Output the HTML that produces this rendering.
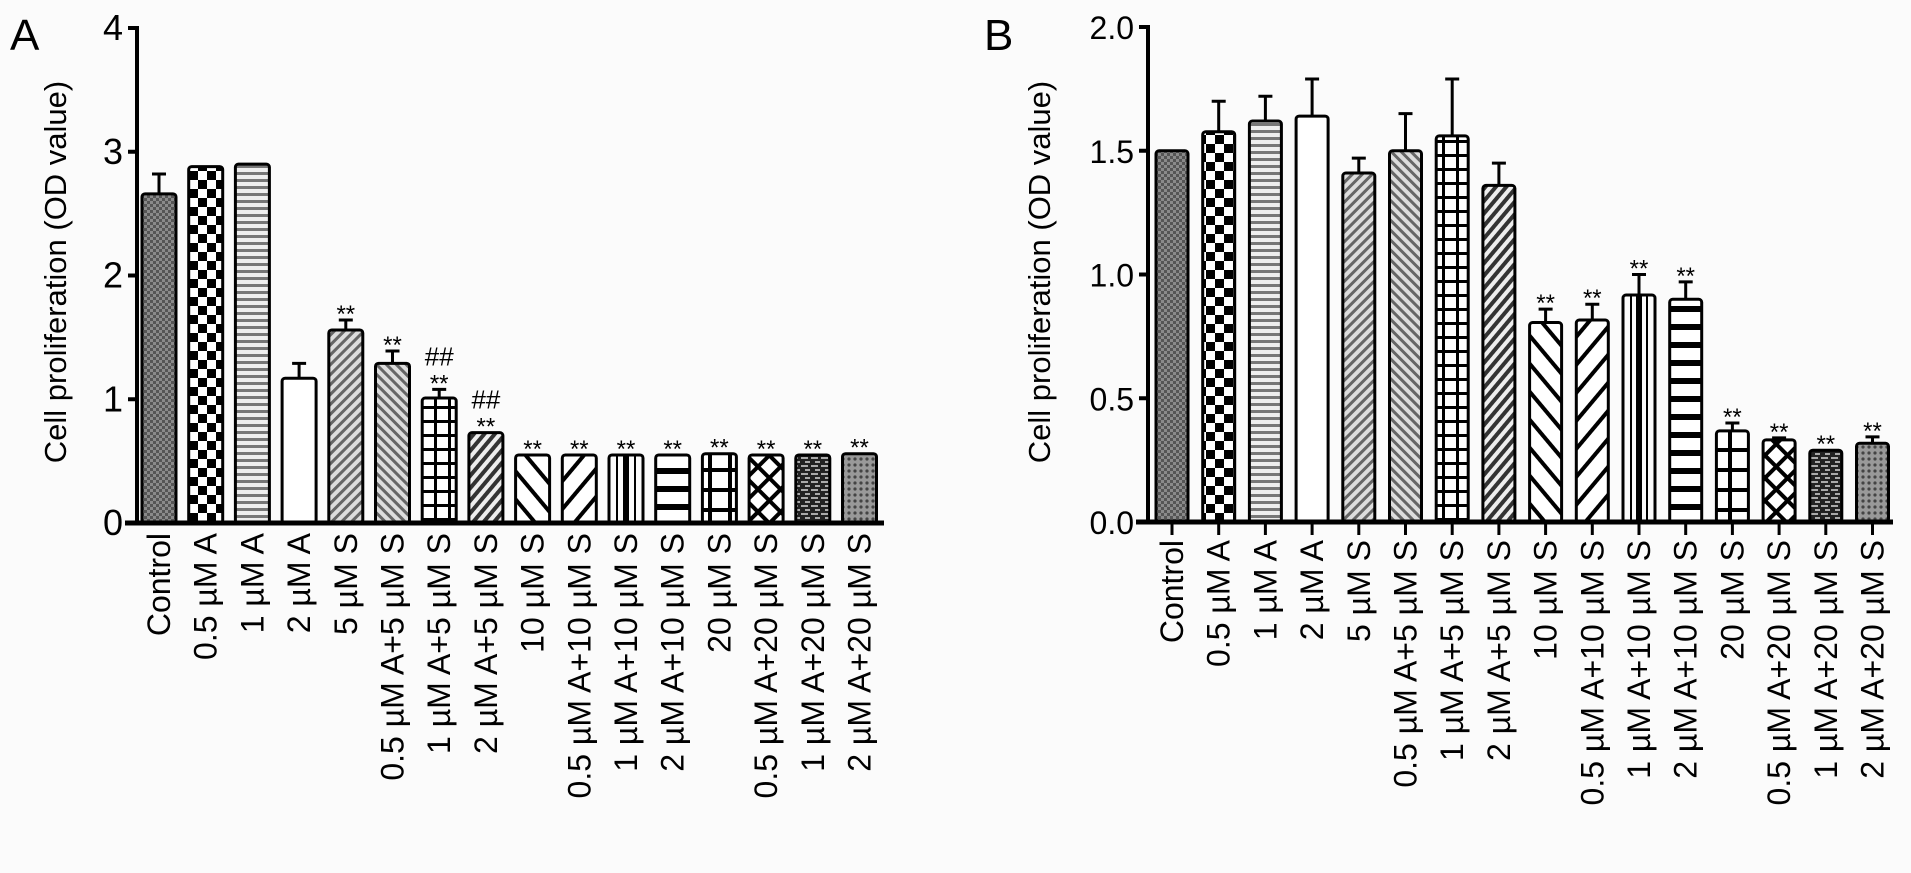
<!DOCTYPE html>
<html><head><meta charset="utf-8">
<style>
html,body{margin:0;padding:0;background:#fbfbfb;}
svg{display:block;font-family:"Liberation Sans",Arial,sans-serif;}
</style></head>
<body>
<svg id="fig" width="1911" height="873" viewBox="0 0 1911 873">
<defs>
 <pattern id="p0" width="6" height="6" patternUnits="userSpaceOnUse"><rect width="6" height="6" fill="#8a8a8a"/><rect width="3" height="3" fill="#555"/><rect x="3" y="3" width="3" height="3" fill="#555"/></pattern>
 <pattern id="p1" width="18" height="18" patternUnits="userSpaceOnUse"><rect width="18" height="18" fill="#fff"/><rect width="9" height="9" fill="#000"/><rect x="9" y="9" width="9" height="9" fill="#000"/></pattern>
 <pattern id="p2" width="7" height="7" patternUnits="userSpaceOnUse"><rect width="7" height="7" fill="#eee"/><rect y="4" width="7" height="3" fill="#777"/></pattern>
 <pattern id="p3" width="10" height="10" patternUnits="userSpaceOnUse"><rect width="10" height="10" fill="#fff"/></pattern>
 <pattern id="p4" width="7" height="7" patternUnits="userSpaceOnUse" patternTransform="rotate(45)"><rect width="7" height="7" fill="#ddd"/><rect width="3" height="7" fill="#666"/></pattern>
 <pattern id="p5" width="7" height="7" patternUnits="userSpaceOnUse" patternTransform="rotate(-45)"><rect width="7" height="7" fill="#ddd"/><rect width="3" height="7" fill="#666"/></pattern>
 <pattern id="p6" width="14" height="14" patternUnits="userSpaceOnUse"><rect width="14" height="14" fill="#fff"/><rect width="3" height="14" fill="#000"/><rect width="14" height="3" fill="#000"/></pattern>
 <pattern id="p7" width="8" height="8" patternUnits="userSpaceOnUse" patternTransform="rotate(40)"><rect width="8" height="8" fill="#eee"/><rect width="4" height="8" fill="#333"/></pattern>
 <pattern id="p8" width="18" height="18" patternUnits="userSpaceOnUse" patternTransform="rotate(-40)"><rect width="18" height="18" fill="#fff"/><rect width="4" height="18" fill="#000"/></pattern>
 <pattern id="p9" width="18" height="18" patternUnits="userSpaceOnUse" patternTransform="rotate(40)"><rect width="18" height="18" fill="#fff"/><rect width="4" height="18" fill="#000"/></pattern>
 <pattern id="p11" width="18" height="18" patternUnits="userSpaceOnUse"><rect width="18" height="18" fill="#fff"/><rect width="18" height="6" fill="#000"/></pattern>
 <pattern id="p12" width="20" height="20" patternUnits="userSpaceOnUse"><rect width="20" height="20" fill="#fff"/><rect x="8" width="4" height="20" fill="#000"/><rect y="8" width="20" height="4" fill="#000"/></pattern>
 <pattern id="p13" width="16" height="16" patternUnits="userSpaceOnUse" patternTransform="rotate(45)"><rect width="16" height="16" fill="#fff"/><rect width="4" height="16" fill="#000"/><rect width="16" height="4" fill="#000"/></pattern>
 <pattern id="p14" width="10" height="8" patternUnits="userSpaceOnUse"><rect width="10" height="8" fill="#222"/><rect x="1" y="1" width="7" height="2" fill="#aaa"/><rect x="5" y="5" width="5" height="2" fill="#aaa"/></pattern>
 <pattern id="p15" width="6" height="6" patternUnits="userSpaceOnUse"><rect width="6" height="6" fill="#999"/><circle cx="3" cy="3" r="1.6" fill="#444"/></pattern>
</defs>
<g id="A"></g>
<g id="B"></g>
</svg>
<script>
const categories = ["Control","0.5 µM A","1 µM A","2 µM A","5 µM S","0.5 µM A+5 µM S","1 µM A+5 µM S","2 µM A+5 µM S","10 µM S","0.5 µM A+10 µM S","1 µM A+10 µM S","2 µM A+10 µM S","20 µM S","0.5 µM A+20 µM S","1 µM A+20 µM S","2 µM A+20 µM S"];
const valuesA = [2.66,2.88,2.90,1.17,1.56,1.29,1.01,0.73,0.55,0.55,0.55,0.55,0.56,0.55,0.55,0.56];
const errTopA = [2.82,2.88,2.90,1.29,1.64,1.39,1.08,0.73,0.55,0.55,0.55,0.55,0.56,0.55,0.55,0.56];
const starsA = ["","","","","**","**","**","**","**","**","**","**","**","**","**","**"];
const hashA = ["","","","","","","##","##","","","","","","","",""];
const ticksA = [0,1,2,3,4];
const tickLabelsA = ["0","1","2","3","4"];
const valuesB = [1.50,1.577,1.62,1.64,1.41,1.50,1.56,1.36,0.806,0.816,0.917,0.90,0.368,0.332,0.29,0.318];
const errTopB = [1.50,1.70,1.72,1.79,1.47,1.65,1.79,1.45,0.86,0.88,1.00,0.97,0.40,0.34,0.29,0.344];
const starsB = ["","","","","","","","","**","**","**","**","**","**","**","**"];
const ticksB = [0,0.5,1.0,1.5,2.0];
const tickLabelsB = ["0.0","0.5","1.0","1.5","2.0"];

const NS="http://www.w3.org/2000/svg";
function mk(parent,tag,attrs,text){const e=document.createElementNS(NS,tag);for(const k in attrs)e.setAttribute(k,attrs[k]);if(text!==undefined)e.textContent=text;parent.appendChild(e);return e;}

function panel(g,o){
  const y=v=>o.y0-(v-o.vmin)/(o.vmax-o.vmin)*(o.y0-o.yTop);
  const x=i=>o.x0+i*o.pitch;
  const L=mk(g,'text',{x:o.letterX,y:50,'font-size':44},o.letter);
  
  
  const t=mk(g,'text',{transform:`translate(${o.titleX},${o.titleY}) rotate(-90)`,'text-anchor':'middle','font-size':31},'Cell proliferation (OD value)');
  
  
  o.vals.forEach((v,i)=>{
    const cx=x(i),top=y(v),bw=o.bw;
    const b=mk(g,'rect',{x:cx-bw/2,y:top,width:bw,height:o.y0-top,fill:`url(#p${i})`,stroke:'#000','stroke-width':3,rx:3});
    
    
    if(i===10){
      mk(g,'rect',{x:cx-3,y:top,width:6,height:o.y0-top,fill:'#000'});
      mk(g,'rect',{x:cx-bw/2+7,y:top,width:2,height:o.y0-top,fill:'#000'});
      mk(g,'rect',{x:cx+bw/2-9,y:top,width:2,height:o.y0-top,fill:'#000'});
    }
    const et=y(o.err[i]);
    if(o.err[i]>v+0.001){
      const eb=mk(g,'path',{d:`M${cx},${top} V${et} M${cx-7},${et} H${cx+7}`,stroke:'#000','stroke-width':3,fill:'none'});
      
      
    }
    let ly=et-8;
    if(o.stars[i]){
      const s=mk(g,'text',{x:cx,y:ly+10,'text-anchor':'middle','font-size':24},o.stars[i]);
      
      
      ly-=22;
    }
    if(o.hash&&o.hash[i]){
      const h=mk(g,'text',{x:cx,y:ly+6,'text-anchor':'middle','font-size':26},o.hash[i]);
      
      
    }
    if(o.xticks) mk(g,'line',{x1:cx,x2:cx,y1:o.y0,y2:o.y0+13,stroke:'#000','stroke-width':3});
    const lab=mk(g,'text',{transform:`translate(${cx+11},${o.labelTop}) rotate(-90)`,'text-anchor':'end','font-size':32},categories[i]);
    
    
  });
  const ya=mk(g,'line',{x1:o.axisX,x2:o.axisX,y1:o.yTop-2,y2:o.y0+2,stroke:'#000','stroke-width':4});
  
  
  const xa=mk(g,'line',{x1:o.axisX-12,x2:o.xEnd,y1:o.y0,y2:o.y0,stroke:'#000','stroke-width':5});
  
  
  o.ticks.forEach((tv,k)=>{
    const ty=y(tv);
    mk(g,'line',{x1:o.axisX-9,x2:o.axisX,y1:ty,y2:ty,stroke:'#000','stroke-width':4});
    const tl=mk(g,'text',{x:o.axisX-14,y:ty+12,'text-anchor':'end','font-size':o.tickSize},o.tickLabels[k]);
    
    
  });
}
panel(document.getElementById('A'),{letter:'A',letterX:10,titleX:66,titleY:272,axisX:137,y0:523,yTop:28,vmin:0,vmax:4,x0:159,pitch:46.7,bw:34,xEnd:884,vals:valuesA,err:errTopA,stars:starsA,hash:hashA,ticks:ticksA,tickLabels:tickLabelsA,xticks:false,labelTop:533,tickSize:36});
panel(document.getElementById('B'),{letter:'B',letterX:984,titleX:1050,titleY:272,axisX:1148,y0:522,yTop:27,vmin:0,vmax:2,x0:1172,pitch:46.7,bw:32,xEnd:1893,vals:valuesB,err:errTopB,stars:starsB,hash:null,ticks:ticksB,tickLabels:tickLabelsB,xticks:true,labelTop:540,tickSize:32});
</script>
</body></html>
